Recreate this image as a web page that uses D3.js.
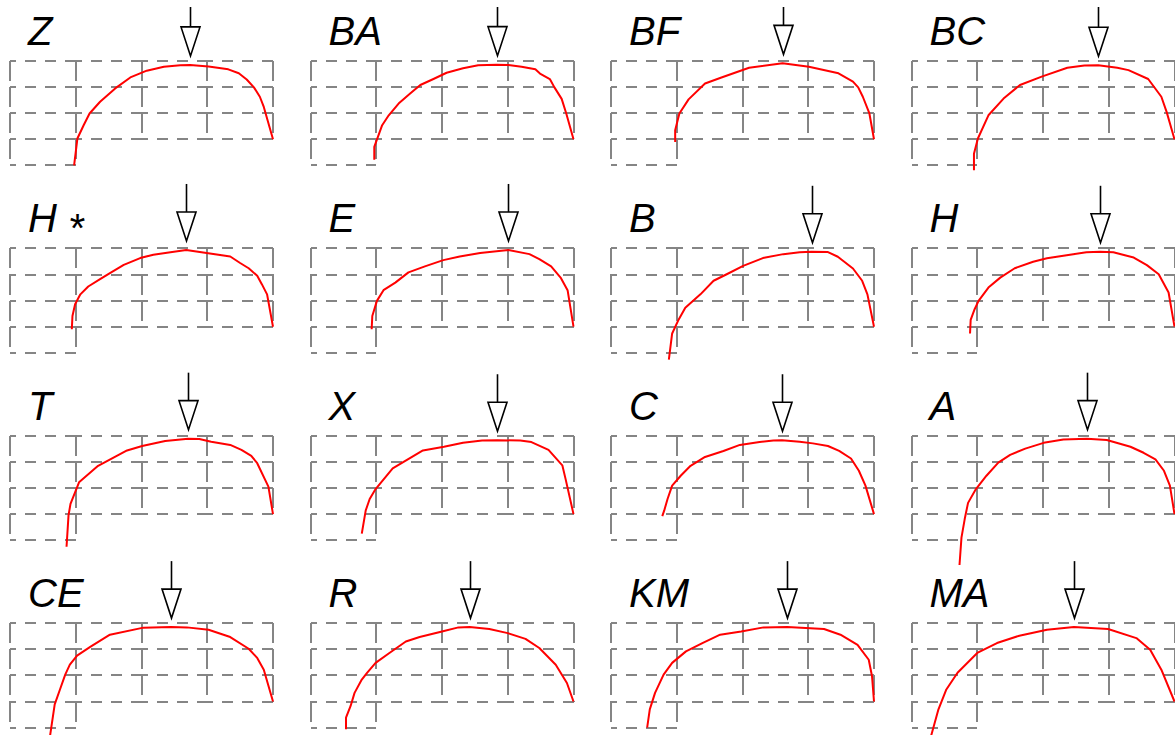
<!DOCTYPE html>
<html>
<head>
<meta charset="utf-8">
<script src="https://cdn.jsdelivr.net/npm/d3@7"></script>
<style>
body { margin: 0; background: #fff; }
svg { display: block; }
</style>
</head>
<body>
<div id="chart"></div>
<script>
// panel labels, in reading order
var names = ['Z', 'BA', 'BF', 'BC', 'H *', 'E', 'B', 'H', 'T', 'X', 'C', 'A', 'CE', 'R', 'KM', 'MA'];

// curves, [x, y] in grid cell units (x: 0..4 columns, y: 0 = bottom of the grid, 4 = top)
var curveZ  = [[0.975,0],[1.025,1.03],[1.12,1.54],[1.21,1.99],[1.37,2.44],[1.60,2.95],[1.83,3.37],[2.08,3.63],[2.34,3.78],[2.59,3.84],[2.74,3.85],[3.02,3.79],[3.32,3.68],[3.48,3.53],[3.60,3.29],[3.71,2.99],[3.80,2.63],[3.86,2.24],[4,1]];
var curveBA = [[0.97,0.22],[0.97,0.71],[1.09,1.54],[1.19,1.92],[1.34,2.37],[1.52,2.76],[1.67,3.08],[1.87,3.31],[2.07,3.55],[2.32,3.72],[2.55,3.84],[2.83,3.86],[3.01,3.85],[3.21,3.78],[3.42,3.68],[3.49,3.52],[3.64,3.31],[3.71,2.99],[3.82,2.55],[3.89,1.99],[4,1]];
var curveBF = [[0.976,0.9],[0.976,1.35],[1.04,1.99],[1.18,2.53],[1.43,3.14],[1.68,3.37],[2.10,3.74],[2.61,3.91],[3.01,3.78],[3.46,3.53],[3.68,3.21],[3.76,2.99],[3.83,2.63],[3.93,1.99],[4,1]];
var curveBC = [[0.95,-0.19],[0.95,0.45],[1.01,1.03],[1.17,1.92],[1.40,2.56],[1.65,3.08],[1.98,3.40],[2.37,3.74],[2.63,3.83],[2.84,3.84],[3.13,3.74],[3.30,3.65],[3.60,3.31],[3.80,2.63],[3.88,2.05],[4,1]];
var curveHs = [[0.94,0.9],[0.95,1.41],[0.99,1.86],[1.07,2.24],[1.19,2.54],[1.37,2.82],[1.52,3.05],[1.73,3.37],[1.98,3.63],[2.18,3.76],[2.44,3.85],[2.68,3.94],[2.99,3.82],[3.35,3.69],[3.50,3.44],[3.63,3.24],[3.76,2.95],[3.83,2.63],[3.91,2.24],[4,1]];
var curveE  = [[0.93,0.9],[0.94,1.41],[1.01,1.99],[1.11,2.40],[1.29,2.69],[1.49,3.08],[1.74,3.31],[2.02,3.55],[2.27,3.69],[2.58,3.82],[3.01,3.94],[3.33,3.78],[3.48,3.59],[3.66,3.31],[3.81,2.86],[3.91,2.40],[4,1]];
var curveB  = [[0.88,-0.26],[0.93,0.74],[1.03,1.28],[1.13,1.73],[1.36,2.24],[1.56,2.76],[1.76,3.01],[2.01,3.33],[2.31,3.63],[2.62,3.78],[2.87,3.85],[3.05,3.87],[3.30,3.86],[3.45,3.68],[3.68,3.23],[3.82,2.76],[3.90,2.24],[4,1]];
var curveH  = [[0.89,0.74],[0.90,1.26],[0.96,1.67],[1.02,1.99],[1.17,2.50],[1.35,2.88],[1.57,3.24],[1.85,3.49],[2.06,3.62],[2.36,3.74],[2.66,3.85],[2.87,3.87],[3.07,3.85],[3.38,3.65],[3.58,3.36],[3.76,3.01],[3.91,2.31],[4,1]];
var curveT  = [[0.86,-0.25],[0.89,0.95],[0.92,1.39],[1.05,2.22],[1.34,2.85],[1.78,3.44],[2.01,3.61],[2.36,3.80],[2.71,3.89],[2.88,3.88],[3.06,3.77],[3.35,3.65],[3.52,3.46],[3.67,3.23],[3.76,2.95],[3.93,2.05],[4,1]];
var curveX  = [[0.78,0.25],[0.84,1.14],[0.90,1.58],[0.99,1.96],[1.25,2.75],[1.71,3.44],[2.03,3.58],[2.32,3.73],[2.61,3.82],[2.84,3.83],[3.19,3.82],[3.36,3.76],[3.62,3.46],[3.83,2.87],[3.88,2.34],[4,1]];
var curveC  = [[0.78,0.92],[0.81,1.14],[0.86,1.58],[0.93,2.09],[1.06,2.47],[1.21,2.85],[1.43,3.19],[1.71,3.42],[1.96,3.65],[2.26,3.76],[2.47,3.82],[2.60,3.83],[2.87,3.77],[3.07,3.71],[3.30,3.61],[3.47,3.42],[3.65,3.13],[3.77,2.66],[3.87,2.09],[4,1]];
var curveA  = [[0.73,-0.95],[0.76,0.1],[0.81,0.82],[0.86,1.43],[0.98,1.96],[1.14,2.47],[1.32,2.97],[1.50,3.27],[1.73,3.51],[2.01,3.73],[2.31,3.86],[2.67,3.89],[2.97,3.84],[3.33,3.58],[3.53,3.35],[3.71,3.10],[3.84,2.66],[3.93,2.09],[4,1]];
var curveCE = [[0.61,-0.3],[0.68,0.89],[0.76,1.46],[0.84,2.03],[0.91,2.41],[1.02,2.76],[1.22,3.09],[1.52,3.56],[2.03,3.83],[2.45,3.85],[2.69,3.84],[3.02,3.75],[3.35,3.47],[3.63,3.02],[3.76,2.67],[3.86,2.22],[4,1]];
var curveR  = [[0.54,-0.06],[0.54,0.38],[0.61,0.83],[0.67,1.33],[0.78,1.84],[0.86,2.10],[0.99,2.48],[1.20,2.86],[1.45,3.30],[1.66,3.47],[2.00,3.68],[2.25,3.84],[2.42,3.85],[2.72,3.78],[3.00,3.62],[3.27,3.40],[3.48,3.05],[3.73,2.41],[3.90,1.71],[4,1]];
var curveKM = [[0.55,0],[0.59,0.70],[0.67,1.33],[0.80,2.03],[0.93,2.48],[1.14,2.92],[1.39,3.24],[1.66,3.56],[1.98,3.68],[2.32,3.84],[2.68,3.85],[3.24,3.78],[3.49,3.56],[3.75,3.17],[3.92,2.60],[3.97,1.97],[4,1]];
var curveMA = [[0.30,-0.3],[0.41,0.70],[0.53,1.46],[0.70,2.10],[1.00,2.86],[1.30,3.24],[1.64,3.52],[2.06,3.75],[2.47,3.85],[2.99,3.78],[3.42,3.43],[3.63,2.98],[3.80,2.22],[4,1]];

var curves = [curveZ, curveBA, curveBF, curveBC, curveHs, curveE, curveB, curveH,
              curveT, curveX, curveC, curveA, curveCE, curveR, curveKM, curveMA];

var width = 1175, height = 735;
var colW = 65.75, rowH = 26.1;

var panelX = d3.scaleLinear().domain([0, 3]).range([10, 911.5]);
var panelY = d3.scaleLinear().domain([0, 3]).range([61, 623.2]);

var svg = d3.select("#chart").append("svg").attr("width", width).attr("height", height);

// cell edges of the grid: 4x3 block plus one extra cell under the first column
var hEdges = [], vEdges = [];
[1, 2, 3, 4].forEach(function(yv) {
    for (var i = 0; i < 4; i++) hEdges.push([i, yv]);
});
hEdges.push([0, 0]);
[0, 1].forEach(function(xv) {
    for (var j = 0; j < 4; j++) vEdges.push([xv, j]);
});
[2, 3, 4].forEach(function(xv) {
    for (var j = 1; j < 4; j++) vEdges.push([xv, j]);
});

var line = d3.line();

curves.forEach(function(curve, k) {
    var gx = panelX(k % 4), gy = panelY(Math.floor(k / 4));
    var x = d3.scaleLinear().domain([0, 4]).range([gx, gx + 4 * colW]);
    var y = d3.scaleLinear().domain([0, 4]).range([gy + 4 * rowH, gy]);
    var xr = function(v) { return Math.round(x(v)); }, yr = function(v) { return Math.round(y(v)); };
    var g = svg.append("g");

    g.selectAll(".h").data(hEdges).enter().append("line")
        .attr("x1", function(d) { return xr(d[0]); }).attr("x2", function(d) { return xr(d[0] + 1); })
        .attr("y1", function(d) { return yr(d[1]); }).attr("y2", function(d) { return yr(d[1]); })
        .attr("stroke", "#858585").attr("stroke-width", 2)
        .attr("stroke-dasharray", "11,9").attr("stroke-dashoffset", 5);

    g.selectAll(".v").data(vEdges).enter().append("line")
        .attr("x1", function(d) { return xr(d[0]); }).attr("x2", function(d) { return xr(d[0]); })
        .attr("y1", function(d) { return yr(d[1] + 1); }).attr("y2", function(d) { return yr(d[1]); })
        .attr("stroke", "#858585").attr("stroke-width", 2)
        .attr("stroke-dasharray", "20,6");

    line.x(function(d) { return x(d[0]); }).y(function(d) { return y(d[1]); });
    g.append("path").attr("d", line(curve))
        .attr("fill", "none").attr("stroke", "#ff0000").attr("stroke-width", 2)
        .attr("stroke-linejoin", "round");

    // arrow pointing at the maximum
    var m = curve[d3.maxIndex(curve, function(d) { return d[1]; })];
    var ax = Math.round(x(m[0])) + 0.5, tip = y(m[1]) - 9, headTop = tip - 29;
    var tail = Math.max(tip - 57, 7);
    g.append("line").attr("x1", ax).attr("x2", ax).attr("y1", tail).attr("y2", headTop)
        .attr("stroke", "#000").attr("stroke-width", 1.6);
    g.append("path")
        .attr("d", "M" + (ax - 9.5) + "," + headTop + "L" + (ax + 9.5) + "," + headTop + "L" + ax + "," + tip + "Z")
        .attr("fill", "#fff").attr("stroke", "#000").attr("stroke-width", 1.6);

    var name = names[k];
    var t = g.append("text").attr("x", gx + 18).attr("y", gy - 16)
        .style("font-family", "'Liberation Sans', Arial, sans-serif")
        .style("font-style", "italic").style("font-size", "40px");
    if (name.indexOf("*") >= 0) {
        t.text(name.replace(" *", " "));
        t.append("tspan").attr("dy", 10).text("*");
    } else {
        t.text(name);
    }
});
</script>
</body>
</html>
